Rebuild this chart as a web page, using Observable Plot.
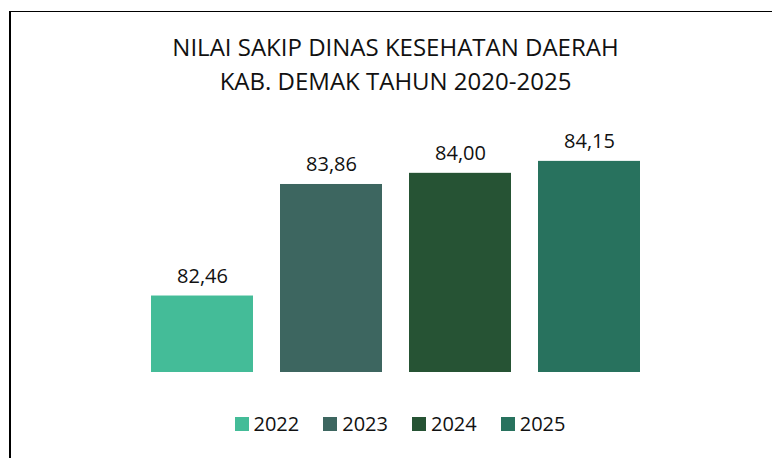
<!DOCTYPE html>
<html>
<head>
<meta charset="utf-8">
<script src="https://cdn.jsdelivr.net/npm/d3@7"></script>
<script src="https://cdn.jsdelivr.net/npm/@observablehq/plot@0.6"></script>
<style>
  html, body { margin: 0; padding: 0; background: #fff; }
  #wrap { position: relative; width: 772px; height: 458px; overflow: hidden; font-family: "Open Sans", sans-serif; color: #111; }
  #frame { position: absolute; left: 9px; top: 11px; width: 800px; height: 500px; border-left: 2px solid #000; border-top: 1px solid #000; box-sizing: border-box; }
  #title { position: absolute; left: 0; top: 30px; width: 791px; text-align: center; font-size: 24px; line-height: 34px; }
  #chart { position: absolute; left: 0; top: 100px; }
  #legend { position: absolute; left: 0; top: 409px; width: 800px; display: flex; justify-content: center; gap: 24px; font-size: 20px; line-height: 30px; }
  #legend .item { display: flex; align-items: center; gap: 5px; }
  #legend .sw { width: 14px; height: 14px; display: inline-block; }
</style>
</head>
<body>
<div id="wrap">
  <div id="frame"></div>
  <div id="title">NILAI SAKIP DINAS KESEHATAN DAERAH<br>KAB. DEMAK TAHUN 2020-2025</div>
  <div id="chart"></div>
  <div id="legend"></div>
</div>
<script>
const years = ["2022", "2023", "2024", "2025"];
const values = [82.46, 83.86, 84.00, 84.15];
const colors = ["#44bc98", "#3d6660", "#265334", "#28725e"];

const data = years.map((y, i) => ({year: y, value: values[i]}));
const fmt = v => v.toFixed(2).replace(".", ",");

const chart = Plot.plot({
  width: 772,
  height: 290,
  marginLeft: 124,
  marginRight: 105,
  marginTop: 33,
  marginBottom: 18,
  style: {fontFamily: "Open Sans, sans-serif", background: "transparent", overflow: "visible"},
  x: {domain: years, padding: 0.209, axis: null},
  y: {domain: [81.5, 84.5], axis: null},
  color: {domain: years, range: colors},
  marks: [
    Plot.barY(data, {x: "year", y1: 81.5, y2: "value", fill: "year"}),
    Plot.text(data, {x: "year", y: "value", text: d => fmt(d.value), lineAnchor: "bottom", dy: -13, fontSize: 20, fill: "#111"})
  ]
});
document.getElementById("chart").appendChild(chart);

const legend = document.getElementById("legend");
years.forEach((y, i) => {
  const it = document.createElement("div");
  it.className = "item";
  it.innerHTML = `<span class="sw" style="background:${colors[i]}"></span><span>${y}</span>`;
  legend.appendChild(it);
});
</script>
</body>
</html>
